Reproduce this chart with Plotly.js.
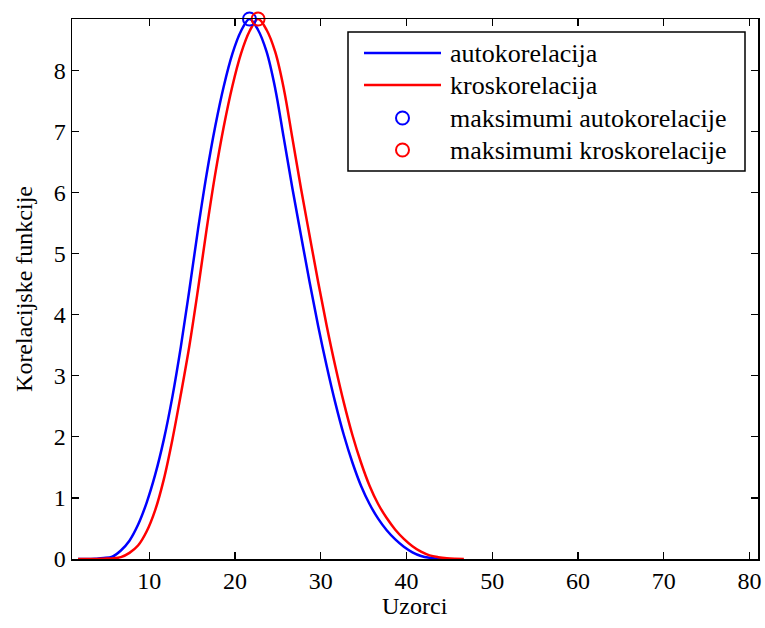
<!DOCTYPE html>
<html>
<head>
<meta charset="utf-8">
<script src="https://cdn.plot.ly/plotly-3.0.1.min.js"></script>
<style>
  html, body { margin: 0; padding: 0; background: #fff; }
  #chart { width: 765px; height: 628px; }
</style>
</head>
<body>
<div id="chart"></div>
<script>
// Sample positions (Uzorci)
var samples = [
  1.7, 2.7, 3.7, 4.7, 5.7, 6.7, 7.7, 8.7, 9.7, 10.7,
  11.7, 12.7, 13.7, 14.7, 15.7, 16.7, 17.7, 18.7, 19.7, 20.7,
  21.7, 22.7, 23.7, 24.7, 25.7, 26.7, 27.7, 28.7, 29.7, 30.7,
  31.7, 32.7, 33.7, 34.7, 35.7, 36.7, 37.7, 38.7, 39.7, 40.7,
  41.7, 42.7, 43.7, 44.7, 45.7, 46.7
];

// Autocorrelation
var autokorelacija = [
  0, 0, 0.005, 0.015, 0.04, 0.14, 0.30, 0.56, 0.92, 1.38,
  1.95, 2.65, 3.48, 4.42, 5.40, 6.30, 7.08, 7.74, 8.27, 8.64,
  8.84, 8.66, 8.30, 7.70, 6.89, 6.07, 5.30, 4.54, 3.82, 3.16,
  2.56, 2.03, 1.58, 1.20, 0.90, 0.66, 0.47, 0.32, 0.20, 0.11,
  0.05, 0.02, 0.005, 0
];

// Cross-correlation
var kroskorelacija = [
  0, 0, 0, 0.005, 0.01, 0.03, 0.10, 0.22, 0.45, 0.80,
  1.30, 1.95, 2.70, 3.50, 4.42, 5.40, 6.30, 7.08, 7.74, 8.27,
  8.64, 8.84, 8.66, 8.30, 7.70, 6.89, 6.07, 5.30, 4.54, 3.82,
  3.16, 2.56, 2.03, 1.58, 1.20, 0.90, 0.67, 0.48, 0.33, 0.21,
  0.12, 0.06, 0.03, 0.012, 0.004, 0
];

var seriesNames = ['autokorelacija', 'kroskorelacija'];
var peakNames = ['maksimumi autokorelacije', 'maksimumi kroskorelacije'];
var xTicks = [10, 20, 30, 40, 50, 60, 70, 80];
var yTicks = [0, 1, 2, 3, 4, 5, 6, 7, 8];

function peakOf(xs, ys) {
  var best = 0;
  for (var i = 1; i < ys.length; i++) if (ys[i] > ys[best]) best = i;
  return { x: xs[best], y: ys[best] };
}

var pA = peakOf(samples, autokorelacija);
var pK = peakOf(samples, kroskorelacija);

var FONT = 'Liberation Serif';
var BLUE = '#0000ff', RED = '#ff0000';

// plot-area geometry (px)
var W = 765, H = 628, ML = 72, MR = 7, MT = 19, MB = 69;
var PW = W - ML - MR, PH = H - MT - MB;
function px(xp) { return (xp - ML) / PW; }
function py(yp) { return (H - MB - yp) / PH; }

var traces = [
  { x: samples.slice(0, autokorelacija.length), y: autokorelacija, mode: 'lines',
    line: { color: BLUE, width: 2.5, shape: 'spline', smoothing: 1 } },
  { x: samples.slice(0, kroskorelacija.length), y: kroskorelacija, mode: 'lines',
    line: { color: RED, width: 2.5, shape: 'spline', smoothing: 1 } },
  { x: [pA.x], y: [pA.y], mode: 'markers', cliponaxis: false,
    marker: { symbol: 'circle-open', size: 13, color: BLUE, line: { width: 2, color: BLUE } } },
  { x: [pK.x], y: [pK.y], mode: 'markers', cliponaxis: false,
    marker: { symbol: 'circle-open', size: 13, color: RED, line: { width: 2, color: RED } } }
];

// legend box, drawn in paper coordinates
var legBox = { x0: 348, x1: 745, y0: 32, y1: 171 };
var legRows = [53, 85, 118, 150];
var legItems = [
  { kind: 'line', color: BLUE, text: seriesNames[0] },
  { kind: 'line', color: RED, text: seriesNames[1] },
  { kind: 'marker', color: BLUE, text: peakNames[0] },
  { kind: 'marker', color: RED, text: peakNames[1] }
];

var shapes = [{
  type: 'rect', xref: 'paper', yref: 'paper',
  x0: px(legBox.x0), x1: px(legBox.x1), y0: py(legBox.y1), y1: py(legBox.y0),
  line: { color: '#000', width: 1.5 }, fillcolor: '#fff', layer: 'above'
}];
var annotations = [];
legItems.forEach(function (it, i) {
  var yy = py(legRows[i]);
  if (it.kind === 'line') {
    shapes.push({ type: 'line', xref: 'paper', yref: 'paper',
      x0: px(364), x1: px(441), y0: yy, y1: yy,
      line: { color: it.color, width: 2.5 }, layer: 'above' });
  } else {
    shapes.push({ type: 'circle', xref: 'paper', yref: 'paper',
      xsizemode: 'pixel', ysizemode: 'pixel', xanchor: px(402.5), yanchor: yy,
      x0: -6.5, x1: 6.5, y0: -6.5, y1: 6.5,
      line: { color: it.color, width: 2 }, layer: 'above' });
  }
  annotations.push({ xref: 'paper', yref: 'paper', x: px(448), y: yy,
    xanchor: 'left', yanchor: 'middle', showarrow: false, text: it.text,
    font: { family: FONT, size: 26, color: '#000' } });
});

// x-axis title placed just under the tick labels
annotations.push({ xref: 'paper', yref: 'paper', x: 0.5, y: py(606),
  xanchor: 'center', yanchor: 'middle', showarrow: false, text: 'Uzorci',
  font: { family: FONT, size: 24, color: '#000' } });

var axisCommon = {
  showgrid: false, zeroline: false,
  showline: true, linecolor: '#000', linewidth: 1.5, mirror: 'ticks',
  ticks: 'inside', ticklen: 7, tickwidth: 1.3, tickcolor: '#000',
  tickfont: { family: FONT, size: 24, color: '#000' }
};

var layout = {
  width: W, height: H,
  margin: { l: ML, r: MR, t: MT, b: MB },
  paper_bgcolor: '#fff', plot_bgcolor: '#fff',
  font: { family: FONT, size: 24, color: '#000' },
  showlegend: false,
  xaxis: Object.assign({}, axisCommon, {
    range: [1, 81], tickvals: xTicks, ticktext: xTicks.map(String)
  }),
  yaxis: Object.assign({}, axisCommon, {
    range: [0, pA.y], tickvals: yTicks, ticktext: yTicks.map(String),
    title: { text: 'Korelacijske funkcije', font: { family: FONT, size: 24, color: '#000' }, standoff: 14 }
  }),
  shapes: shapes,
  annotations: annotations
};

Plotly.newPlot('chart', traces, layout, { displayModeBar: false, staticPlot: true });
</script>
</body>
</html>
